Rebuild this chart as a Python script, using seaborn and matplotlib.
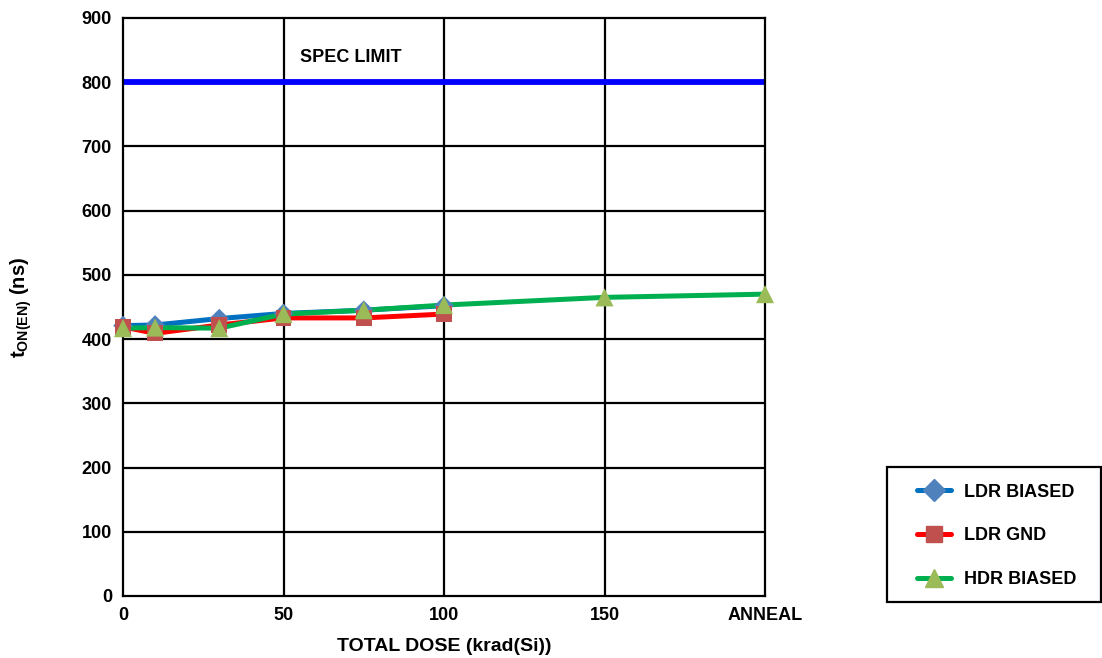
import pandas as pd
import matplotlib.pyplot as plt
import seaborn as sns
from matplotlib.lines import Line2D
from matplotlib.patches import Rectangle

# dose steps; ANNEAL is plotted as the next step after 150
dose = [0, 10, 30, 50, 75, 100, 150, 200]
x_ticks = [0, 50, 100, 150, 200]
x_tick_labels = ['0', '50', '100', '150', 'ANNEAL']

ldr_biased = [421, 422, 432, 440, 445, 452]
ldr_gnd = [419, 409, 422, 433, 433, 439]
hdr_biased = [417, 418, 417, 439, 445, 453, 465, 470]
spec_limit = 800

series = ['LDR BIASED', 'LDR GND', 'HDR BIASED']
line_colors = ['#0070C0', '#FF0000', '#00B050']
marker_colors = ['#4F81BD', '#C0504D', '#9BBB59']
markers = ['D', 's', '^']
marker_sizes = [100, 130, 170]

df = pd.concat([
    pd.DataFrame({'dose': dose[:len(ldr_biased)], 'ton': ldr_biased, 'series': series[0]}),
    pd.DataFrame({'dose': dose[:len(ldr_gnd)], 'ton': ldr_gnd, 'series': series[1]}),
    pd.DataFrame({'dose': dose[:len(hdr_biased)], 'ton': hdr_biased, 'series': series[2]}),
])

sns.set_style('white')
plt.rcParams['font.family'] = ['Liberation Sans', 'DejaVu Sans']
plt.rcParams['font.weight'] = 'bold'
plt.rcParams['text.color'] = 'black'
plt.rcParams['axes.labelcolor'] = 'black'
plt.rcParams['xtick.color'] = 'black'
plt.rcParams['ytick.color'] = 'black'
plt.rcParams['mathtext.fontset'] = 'custom'
plt.rcParams['mathtext.rm'] = 'Liberation Sans:bold'
plt.rcParams['mathtext.bf'] = 'Liberation Sans:bold'
plt.rcParams['mathtext.it'] = 'Liberation Sans:bold'

fig = plt.figure(figsize=(11.02, 6.58), dpi=100)
ax = fig.add_axes([123 / 1102, 62 / 658, 642 / 1102, 578 / 658])

# grid
for y in range(100, 900, 100):
    ax.axhline(y, color='black', lw=1.6, zorder=1)
for x in [50, 100, 150]:
    ax.axvline(x, color='black', lw=1.6, zorder=1)

# spec limit
ax.axhline(spec_limit, color='#0000FF', lw=4.2, zorder=2)
ax.text(55, 838, 'SPEC LIMIT', fontsize=13, fontweight='bold',
        ha='left', va='center', color='black')

sns.lineplot(data=df, x='dose', y='ton', hue='series', palette=line_colors,
             hue_order=series, lw=3.6, legend=False, ax=ax, zorder=3)
for name, mk, mc, ms in zip(series, markers, marker_colors, marker_sizes):
    sub = df[df['series'] == name]
    sns.scatterplot(x=sub['dose'], y=sub['ton'], marker=mk, color=mc,
                    s=ms, edgecolor='none', ax=ax, zorder=4, clip_on=False)

ax.set_xlim(0, 200)
ax.set_ylim(0, 900)
ax.set_yticks(range(0, 1000, 100))
ax.set_xticks(x_ticks)
ax.set_xticklabels(x_tick_labels)
ax.tick_params(labelsize=13, length=0, pad=8, colors='black')
for lab in ax.get_xticklabels() + ax.get_yticklabels():
    lab.set_fontweight('bold')
for sp in ax.spines.values():
    sp.set_color('black')
    sp.set_linewidth(1.6)

ax.set_xlabel('TOTAL DOSE (krad(Si))', fontsize=14, fontweight='bold', labelpad=10)
ax.set_ylabel(r'$\mathbf{t_{ON(EN)}}$ (ns)', fontsize=14.5, fontweight='bold', labelpad=34)

# legend box drawn separately so it matches the reference size
fig.patches.append(Rectangle((887 / 1102, 56 / 658), 214 / 1102, 135 / 658,
                             transform=fig.transFigure, fill=False,
                             edgecolor='black', lw=1.6))
handles = [Line2D([0], [0], color=lc, lw=3.6, marker=mk, markerfacecolor=mc,
                  markeredgecolor=mc, markersize=13 if mk == '^' else 11)
           for lc, mc, mk in zip(line_colors, marker_colors, markers)]
fig.legend(handles, series, loc='center left',
           bbox_to_anchor=(917 / 1102, (658 - 536) / 658),
           frameon=False, prop={'weight': 'bold', 'size': 13},
           labelspacing=1.48, handlelength=1.9, handletextpad=0.7,
           borderpad=0, borderaxespad=0)

fig.savefig('out.png', dpi=100)
